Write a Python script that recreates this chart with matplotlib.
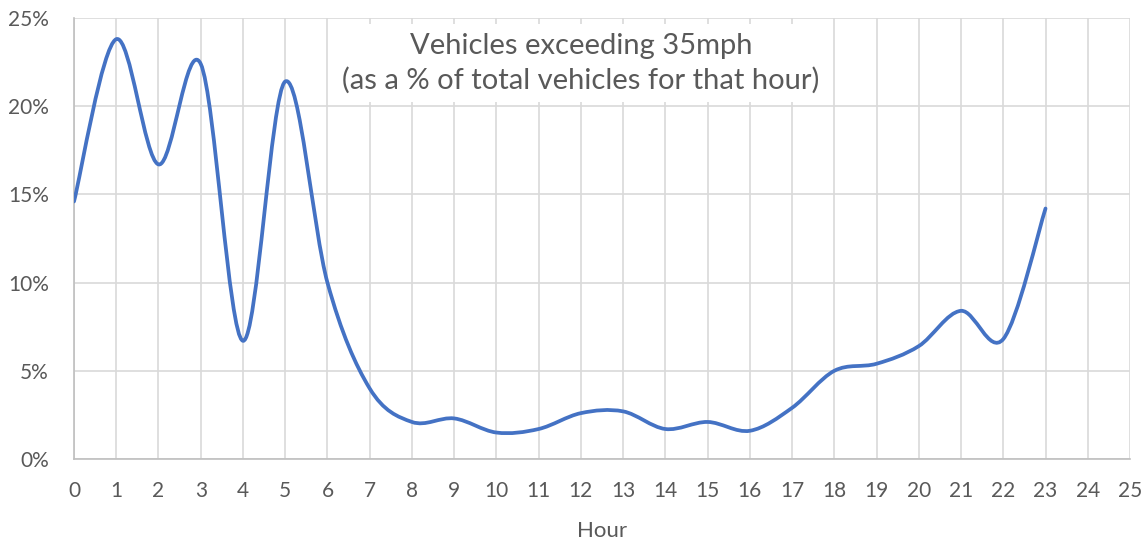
import numpy as np
import matplotlib.pyplot as plt
from matplotlib.path import Path
from matplotlib.patches import PathPatch
from matplotlib.ticker import FuncFormatter

plt.rcParams['font.family'] = ['Lato', 'DejaVu Sans']

hours = list(range(24))
pct = [14.6, 23.8, 16.7, 22.4, 6.7, 21.4, 10.0, 4.0, 2.1, 2.3, 1.5, 1.7,
       2.6, 2.7, 1.7, 2.1, 1.6, 2.9, 5.0, 5.4, 6.4, 8.4, 6.8, 14.2]

title = 'Vehicles exceeding 35mph\n(as a % of total vehicles for that hour)'
grey = '#595959'
gridc = '#d9d9d9'

# smoothed line like excel: bezier through the points (catmull-rom style)
x = np.array(hours, float)
y = np.array(pct) / 100
verts = [(x[0], y[0])]
codes = [Path.MOVETO]
n = len(x)
for i in range(n - 1):
    x0, y0 = (x[i - 1], y[i - 1]) if i > 0 else (x[i], y[i])
    x3, y3 = (x[i + 2], y[i + 2]) if i + 2 < n else (x[i + 1], y[i + 1])
    c1 = (x[i] + (x[i + 1] - x0) / 6, y[i] + (y[i + 1] - y0) / 6)
    c2 = (x[i + 1] - (x3 - x[i]) / 6, y[i + 1] - (y3 - y[i]) / 6)
    verts += [c1, c2, (x[i + 1], y[i + 1])]
    codes += [Path.CURVE4] * 3

fig = plt.figure(figsize=(11.48, 5.43), dpi=100)
ax = fig.add_axes([74 / 1148, 1 - 459 / 543, (1130 - 74) / 1148, (459 - 18) / 543])
ax.add_patch(PathPatch(Path(verts, codes), facecolor='none', edgecolor='#4472C4',
                       lw=2.7, capstyle='round', joinstyle='round', zorder=3))

ax.set_xlim(0, 25)
ax.set_ylim(0, 0.25)
ax.set_xticks(range(26))
ax.set_yticks(np.arange(0, 0.26, 0.05))
ax.yaxis.set_major_formatter(FuncFormatter(lambda v, p: '%d%%' % round(v * 100)))
ax.grid(True, color=gridc, lw=1.2)
ax.set_axisbelow(True)
for s in ['top', 'right']:
    ax.spines[s].set_visible(False)
for s in ['left', 'bottom']:
    ax.spines[s].set_color('#bfbfbf')
    ax.spines[s].set_linewidth(1.2)
ax.tick_params(length=0, labelsize=15, colors=grey)
ax.tick_params(axis='x', pad=16)
ax.tick_params(axis='y', pad=18)
ax.set_xlabel('Hour', fontsize=16, color=grey, labelpad=14)

ax.text(12.0, 0.2245, title, ha='center', va='center', fontsize=21, color=grey,
        linespacing=1.35, zorder=4,
        bbox=dict(facecolor='white', edgecolor='none', pad=6))

fig.savefig('out.png', dpi=100)
